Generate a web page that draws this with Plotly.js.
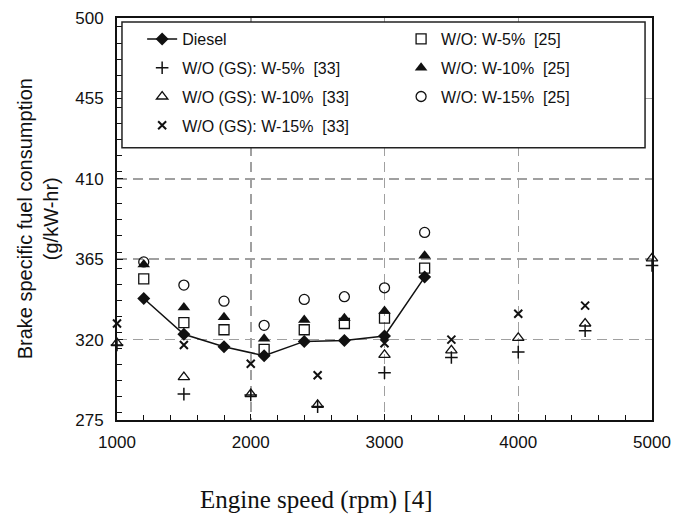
<!DOCTYPE html>
<html>
<head>
<meta charset="utf-8">
<script src="https://cdn.plot.ly/plotly-3.0.1.min.js"></script>
<style>html,body{margin:0;padding:0;background:#fff;}#chart{width:688px;height:531px;}</style>
</head>
<body>
<div id="chart"></div>
<script>
// Diesel baseline
const dieselX = [1200, 1500, 1800, 2100, 2400, 2700, 3000, 3300];
const dieselY = [343, 323, 316, 311, 319, 319.5, 322, 355];

// W/O [25]
const wo25X = [1200, 1500, 1800, 2100, 2400, 2700, 3000, 3300];
const wo25_5 = [354, 329.5, 325.5, 314.5, 325.5, 329, 332, 360];
const wo25_10 = [362, 338, 332.5, 320.5, 331, 332, 336, 367];
const wo25_15 = [363.5, 350.5, 341.5, 328, 342.5, 344, 349, 380];

// W/O (GS) [33]
const gs5X = [1000, 1500, 2000, 2500, 3000, 3500, 4000, 4500, 5000];
const gs5Y = [317, 289.5, 289, 282.5, 301.5, 310, 313, 325, 361.5];
const gs10X = [1000, 1500, 2000, 2500, 3000, 3500, 4000, 4500, 5000];
const gs10Y = [318, 299, 289.5, 283.5, 311.5, 314, 321, 329, 365.5];
const gs15X = [1000, 1500, 2000, 2500, 3000, 3500, 4000, 4500];
const gs15Y = [329, 317, 306.5, 300, 318, 320, 334.5, 339];

const legendNames = {
  diesel: 'Diesel',
  gs5: 'W/O (GS): W-5%  [33]',
  gs10: 'W/O (GS): W-10%  [33]',
  gs15: 'W/O (GS): W-15%  [33]',
  wo5: 'W/O: W-5%  [25]',
  wo10: 'W/O: W-10%  [25]',
  wo15: 'W/O: W-15%  [25]'
};
const xTitle = 'Engine speed (rpm) [4]';
const yTitle = 'Brake specific fuel consumption<br>(g/kW-hr)';

const k = '#111';
const base = {cliponaxis: false};
const traces = [
  Object.assign({x: dieselX, y: dieselY, name: legendNames.diesel, mode: 'lines+markers',
   legend: 'legend', legendgroup: 'a',
   line: {color: k, width: 1.5}, marker: {symbol: 'diamond', size: 10, color: k}}, base),
  Object.assign({x: gs5X, y: gs5Y, name: legendNames.gs5, mode: 'markers',
   legend: 'legend', legendgroup: 'b',
   marker: {symbol: 'cross-thin-open', size: 9, color: k, line: {width: 1.5, color: k}}}, base),
  Object.assign({x: gs10X, y: gs10Y, name: legendNames.gs10, mode: 'markers',
   legend: 'legend', legendgroup: 'c',
   marker: {symbol: 'triangle-up-open', size: 10, color: k, line: {width: 1.3}}}, base),
  Object.assign({x: gs15X, y: gs15Y, name: legendNames.gs15, mode: 'markers',
   legend: 'legend', legendgroup: 'd',
   marker: {symbol: 'x-thin-open', size: 8, color: k, line: {width: 2, color: k}}}, base),
  Object.assign({x: wo25X, y: wo25_5, name: legendNames.wo5, mode: 'markers',
   legend: 'legend2', legendgroup: 'e',
   marker: {symbol: 'square-open', size: 10, color: k, line: {width: 1.3}}}, base),
  Object.assign({x: wo25X, y: wo25_10, name: legendNames.wo10, mode: 'markers',
   legend: 'legend2', legendgroup: 'f',
   marker: {symbol: 'triangle-up', size: 11, color: k}}, base),
  Object.assign({x: wo25X, y: wo25_15, name: legendNames.wo15, mode: 'markers',
   legend: 'legend2', legendgroup: 'g',
   marker: {symbol: 'circle-open', size: 10, color: k, line: {width: 1.3}}}, base)
];

const legFont = {size: 16, family: 'Liberation Sans, Arial, sans-serif', color: '#111'};
const legendCommon = {
  orientation: 'v', yanchor: 'top', xanchor: 'left', y: 0.99,
  bgcolor: 'rgba(0,0,0,0)', borderwidth: 0,
  font: legFont, traceorder: 'grouped', tracegroupgap: 5, itemwidth: 30
};

const gridDash = '10px,6px';
const layout = {
  width: 688, height: 531,
  margin: {l: 117, r: 36, t: 18, b: 111},
  paper_bgcolor: '#fff', plot_bgcolor: '#fff',
  font: {family: 'Liberation Sans, Arial, sans-serif', size: 17, color: '#111'},
  showlegend: true,
  legend: Object.assign({x: 0.047}, legendCommon),
  legend2: Object.assign({x: 0.531}, legendCommon),
  shapes: [{
    type: 'rect', xref: 'paper', yref: 'paper', layer: 'above',
    x0: 0.0093, x1: 0.987, y0: 0.677, y1: 0.99,
    fillcolor: '#fff', line: {color: '#222', width: 1.5}
  }],
  annotations: [
    {text: xTitle, xref: 'paper', yref: 'paper', x: 0.372, y: -0.199,
     xanchor: 'center', yanchor: 'middle', showarrow: false,
     font: {family: 'Liberation Serif, DejaVu Serif, serif', size: 25, color: '#111'}},
    {text: yTitle, xref: 'paper', yref: 'paper', x: -0.147, y: 0.5,
     xanchor: 'center', yanchor: 'middle', showarrow: false, textangle: -90,
     font: {family: 'Liberation Sans, Arial, sans-serif', size: 20, color: '#111'}}
  ],
  xaxis: {
    range: [1000, 5000], tick0: 1000, dtick: 1000, tickmode: 'linear',
    showline: true, linecolor: '#111', linewidth: 2, mirror: true,
    ticks: 'inside', ticklen: 6, tickcolor: '#111', ticklabelstandoff: 6,
    showgrid: true, gridcolor: '#a0a0a0', griddash: gridDash, gridwidth: 1.5,
    zeroline: false,
    minor: {dtick: 200, ticks: 'inside', ticklen: 5, tickcolor: '#111', showgrid: false},
    tickfont: {size: 17}
  },
  yaxis: {
    range: [275, 500], tick0: 275, dtick: 45, tickmode: 'linear',
    showline: true, linecolor: '#111', linewidth: 2, mirror: true,
    ticks: 'inside', ticklen: 6, tickcolor: '#111', ticklabelstandoff: 8,
    showgrid: true, gridcolor: '#a0a0a0', griddash: gridDash, gridwidth: 1.5,
    zeroline: false,
    minor: {dtick: 9, ticks: 'inside', ticklen: 5, tickcolor: '#111', showgrid: false},
    tickfont: {size: 17}
  }
};

Plotly.newPlot('chart', traces, layout, {displayModeBar: false, staticPlot: true});
</script>
</body>
</html>
